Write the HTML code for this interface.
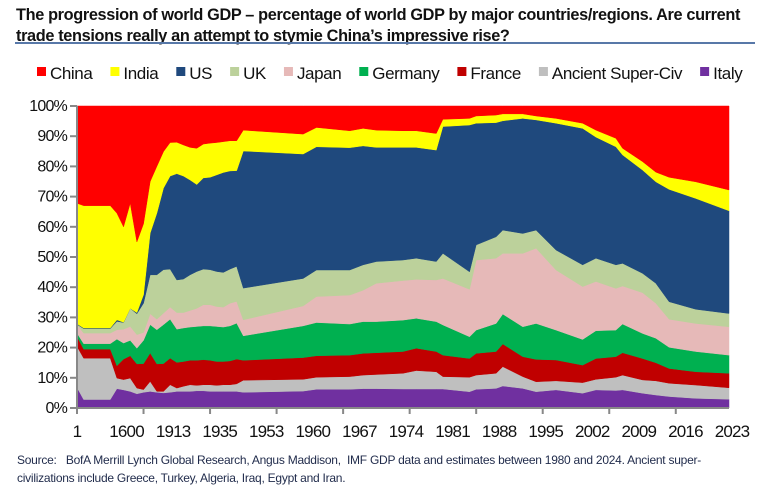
<!DOCTYPE html>
<html><head><meta charset="utf-8">
<style>
body{margin:0;background:#fff;width:767px;height:499px;overflow:hidden;font-family:"Liberation Sans Narrow","Liberation Sans",sans-serif;}
#title{position:absolute;left:16px;top:5px;width:745px;font-weight:bold;font-size:16.3px;line-height:21px;color:#111;letter-spacing:-0.35px;}
#rule{position:absolute;left:15px;top:42px;width:740px;height:2px;background:#5878a8;}
.src{position:absolute;left:17px;font-size:12px;color:#1f2a4a;letter-spacing:-0.25px;}
</style></head><body>
<div id="title">The progression of world GDP – percentage of world GDP by major countries/regions. Are current trade tensions really an attempt to stymie China’s impressive rise?</div>
<div id="rule"></div>
<svg id="chart" width="767" height="499" style="position:absolute;left:0;top:0"></svg>
<div class="src" style="top:453px">Source:&nbsp;&nbsp; BofA Merrill Lynch Global Research, Angus Maddison,&nbsp; IMF GDP data and estimates between 1980 and 2024. Ancient super-</div>
<div class="src" style="top:471px">civilizations include Greece, Turkey, Algeria, Iraq, Egypt and Iran.</div>
<script>
const xLabels=["1","1600","1913","1935","1953","1960","1967","1974","1981","1988","1995","2002","2009","2016","2023"];
const idx=[0,1,5,6,7,8,9,10,11,12,13,14,15,16,17,18,19,20,21,22,23,24,25,34,36,41,43,45,49,51,54,55,59,60,63,64,67,69,72,76,78,81,82,85,87,89,93,98];
const italy=[6.8,2.8,2.8,6.4,6,5.5,4.7,5.2,5.5,5.2,5.0,5.2,5.5,5.5,5.5,5.7,5.7,5.5,5.5,5.5,5.5,5.5,5.2,5.6,6.2,6.2,6.4,6.4,6.3,6.3,6.3,6.3,5.4,6.2,6.5,7.3,6.5,5.4,6.0,4.9,6.0,5.8,6.0,4.9,4.3,3.8,3.2,2.9];
const ancient=[13.6,13.7,13.7,3.5,3.4,4.4,1.9,0.9,3.3,0.3,0.5,2.5,1.1,1.7,2.2,1.8,2.0,2.2,2.0,2.2,2.2,2.5,4.0,3.9,4.0,4.2,4.5,4.7,5.2,6.1,5.7,4.1,4.8,4.7,5.0,6.4,3.9,3.3,3.0,3.5,3.5,4.4,4.9,4.4,4.7,4.4,4.4,3.8];
const france=[3.3,3.0,3.0,4.1,6.8,7.4,8.0,8.6,9.4,9.1,9.2,8.8,8.5,8.2,8.1,8.3,8.3,8.1,7.9,7.7,7.9,8.2,6.6,7.2,7.1,7.1,7.2,7.2,7.2,7.4,6.7,7.1,6.2,7.2,7.2,7.5,6.6,7.4,6.9,5.8,6.9,6.8,7.4,7.1,6.0,4.9,4.4,4.8];
const germany=[1.1,1.8,1.8,8.8,5.3,5.1,5.2,7.7,9.4,11.3,12.9,12.9,11.0,11.1,11.0,11.2,11.2,11.4,11.6,11.4,11.6,11.9,8.1,10.5,11.0,10.3,10.5,10.3,10.4,9.9,9.9,10.0,7.2,7.7,9.3,9.9,9.9,11.9,9.9,8.5,9.2,8.8,9.5,8.3,8.1,7.0,6.7,6.0];
const japan=[2.8,3.5,3.5,3.1,4.6,4.6,4.5,2.6,3.6,3.5,3.8,4.0,5.5,5.1,5.5,6.0,7.0,7.0,6.6,6.6,7.5,7.2,5.3,6.6,8.6,9.6,10.4,12.7,13.1,12.9,13.8,15.4,15.7,23.2,21.6,20.1,24.3,24.9,19.9,17.5,16.3,13.8,12.6,13.5,11.6,9.3,9.3,9.4];
const uk=[0.1,1.5,1.5,2.8,2.2,6.0,6.9,9.7,12.9,14.7,14.4,12.6,10.8,11.1,11.8,12.2,11.8,11.6,11.6,11.5,11.3,11.6,10.5,9.1,8.8,8.3,8.4,7.2,6.8,7.0,6.1,8.3,5.8,5.0,7.1,7.7,6.6,6.0,6.6,7.2,7.7,7.8,7.5,6.4,6.6,5.8,4.7,4.4];
const us=[0.2,0.2,0.2,0.5,0.1,0,0.4,2.8,13.8,20.4,27.0,30.8,35.2,34.1,31.4,28.8,30.2,30.6,32.0,33.1,32.5,31.7,45.4,41.2,40.8,40.5,39.4,37.8,37.3,36.7,36.9,42.0,48.6,40.3,37.8,36.2,38.1,36.5,42.0,45.2,40.1,39.1,35.9,34.2,33.6,37.2,36.7,34.0];
const india=[39.9,40.5,40.5,35.3,31.6,34.8,23.4,23.5,17.1,15.5,12.1,11.1,10.4,10.3,10.8,12.0,11.2,11.3,10.7,10.2,10.0,9.9,6.9,6.6,6.4,5.6,5.8,5.7,5.5,5.5,5.5,2.4,2.2,2.4,2.5,2.3,1.5,1.3,1.6,1.7,2.3,2.8,2.2,2.8,3.2,4.0,5.5,6.9];
const china=[32.2,33,33,35.5,40,32.2,45,39,25,20,15.1,12.1,12,12.9,13.7,14,12.6,12.3,12.1,11.8,11.5,11.5,8,9.3,7.1,8.2,7.4,8,8.2,8.2,9.1,4.4,4.1,3.3,3,2.6,2.6,3.3,4.1,5.7,8,10.7,14,18.4,21.9,23.6,25.1,27.8];
const yTicks=[0,10,20,30,40,50,60,70,80,90,100];

const series=[["italy",italy,"#7030a0"],["ancient-super-civ",ancient,"#bfbfbf"],["france",france,"#c00000"],["germany",germany,"#00b050"],["japan",japan,"#e6b9b8"],["uk",uk,"#bcd19b"],["us",us,"#1f497d"],["india",india,"#ffff00"],["china",china,"#ff0000"]];
const legendItems=[["China","#ff0000"],["India","#ffff00"],["US","#1f497d"],["UK","#bcd19b"],["Japan","#e6b9b8"],["Germany","#00b050"],["France","#c00000"],["Ancient Super-Civ","#bfbfbf"],["Italy","#7030a0"]];
const L=77,R=729,T=106,B=408,NCAT=98;
const X=i=>L+i*(R-L)/NCAT;
const Y=v=>B-Math.min(100,Math.max(0,v))/100*(B-T);
const NS="http://www.w3.org/2000/svg";
const svg=document.getElementById('chart');
function mk(tag,a){const e=document.createElementNS(NS,tag);for(const k in a)e.setAttribute(k,a[k]);svg.appendChild(e);return e;}
let base=idx.map(()=>0);
series.forEach(s=>{
  const top=base.map((b,j)=>b+s[1][j]);
  let d="M"+idx.map((c,j)=>X(c).toFixed(2)+","+Y(top[j]).toFixed(2)).join("L");
  for(let j=idx.length-1;j>=0;j--)d+="L"+X(idx[j]).toFixed(2)+","+Y(base[j]).toFixed(2);
  const p=mk('path',{d:d+"Z",fill:s[2],stroke:s[2],'stroke-width':0.5});
  
  
  base=top;
});
const ax=mk('path',{d:`M${L},${T}V${B}H${R}`,stroke:'#888',fill:'none','stroke-width':2});


yTicks.forEach(v=>{
  const tk=mk('line',{x1:L-7,x2:L,y1:Y(v),y2:Y(v),stroke:'#888','stroke-width':2});
  
  
  const t=mk('text',{x:L-10,y:Y(v)+5,'text-anchor':'end','font-size':16,fill:'#111','font-family':'"Liberation Sans Narrow","Liberation Sans",sans-serif','letter-spacing':'-0.8'});
  t.textContent=v+"%";
  
  
});
for(let c=0;c<=NCAT;c+=10){
  const tk=mk('line',{x1:X(c),x2:X(c),y1:B,y2:B+6,stroke:'#888','stroke-width':2});
  
  
}
xLabels.forEach((lab,k)=>{
  const t=mk('text',{x:X(k*7)+(k?3:0),y:437,'text-anchor':'middle','font-size':17,fill:'#111','font-family':'"Liberation Sans Narrow","Liberation Sans",sans-serif','letter-spacing':'-0.8'});
  t.textContent=lab;
  
  
});
let lx=37;
legendItems.forEach(it=>{
  const r=mk('rect',{x:lx,y:67,width:9,height:9,fill:it[1]});
  
  
  const t=mk('text',{x:lx+13,y:79,'font-size':17,fill:'#111','font-family':'"Liberation Sans Narrow","Liberation Sans",sans-serif','letter-spacing':'-0.4'});
  t.textContent=it[0];
  
  
  lx+=13+t.getComputedTextLength()+18;
});
</script>
</body></html>
